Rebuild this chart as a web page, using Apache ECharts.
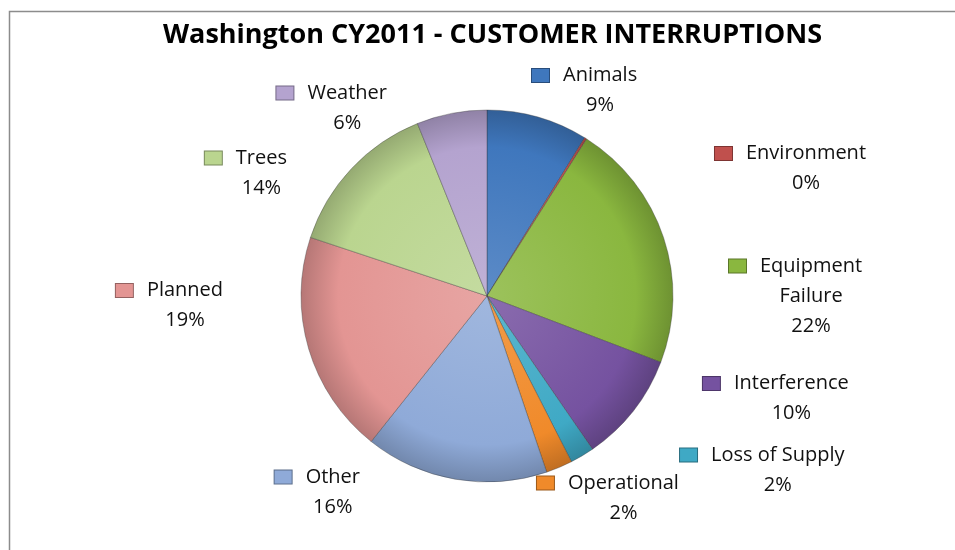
<!DOCTYPE html>
<html>
<head>
<meta charset="utf-8">
<title>Washington CY2011 - Customer Interruptions</title>
<script src="https://cdn.jsdelivr.net/npm/echarts@6/dist/echarts.min.js"></script>
<style>
    html, body { margin: 0; padding: 0; background: #fff; }
    #pie { width: 955px; height: 550px; }
</style>
</head>
<body>
<div id="pie"></div>
<script>
    // causes, clockwise from 12 o'clock
    var causes = ['Animals', 'Environment', 'Equipment Failure', 'Interference', 'Loss of Supply',
        'Operational', 'Other', 'Planned', 'Trees', 'Weather'];
    // share of customer interruptions (%)
    var shares = [8.8, 0.2, 21.8, 9.6, 2.1, 2.3, 15.9, 19.4, 13.8, 6.1];

    var colors = ['#3F77BD', '#C0504D', '#8AB73F', '#7552A0', '#3FA9C5',
        '#F08A2A', '#8FAAD8', '#E39593', '#BAD58F', '#B4A3CF'];
    // label line lengths (line itself hidden) so each label sits where excel put it
    var lineLen  = [27.6, -35.6, -186, -20, 16.5, 33.2, 13, -152.7, -6.3, 5.5];
    var lineLen2 = [-18.3, 143.2, 237, 80.4, 84.4, -40.2, 87.8, 227, 64, 58.5];

    var cx = 487, cy = 296, R = 186;

    function shade(hex, k) {
        var n = parseInt(hex.slice(1), 16);
        var rgb = [n >> 16, (n >> 8) & 255, n & 255].map(function (c) {
            return Math.round(k > 0 ? c + (255 - c) * k : c * (1 + k));
        });
        return 'rgb(' + rgb.join(',') + ')';
    }

    var rich = {
        n: { fontFamily: 'Open Sans', fontSize: 20, lineHeight: 30, color: '#111', align: 'center' },
        g: { width: 14, lineHeight: 30, align: 'center' },
        s: { width: 31, lineHeight: 30, align: 'center' }
    };
    colors.forEach(function (c, i) {
        rich['m' + i] = { width: 17, height: 13, lineHeight: 30, backgroundColor: c,
            borderColor: shade(c, -0.35), borderWidth: 1, align: 'center' };
    });

    var myChart = echarts.init(document.getElementById('pie'));
    var option = {
        backgroundColor: '#fff',
        animation: false,
        title: {
            text: 'Washington CY2011 - CUSTOMER INTERRUPTIONS',
            left: 163,
            top: 22,
            padding: 0,
            textStyle: { fontFamily: 'Open Sans', fontWeight: 'bold', fontSize: 27, color: '#000' }
        },
        graphic: [{
            type: 'rect',
            shape: { x: 9.5, y: 11.5, width: 1000, height: 600 },
            style: { fill: 'none', stroke: '#8c8c8c', lineWidth: 1.5 },
            silent: true
        }],
        series: [{
            type: 'pie',
            center: [cx, cy],
            radius: R,
            startAngle: 90,
            clockwise: true,
            avoidLabelOverlap: false,
            percentPrecision: 0,
            silent: true,
            itemStyle: { borderColor: 'rgba(50,50,50,0.35)', borderWidth: 1 },
            label: {
                show: true,
                position: 'outside',
                distanceToLabelLine: 5,
                fontFamily: 'Open Sans',
                fontSize: 20,
                lineHeight: 30,
                color: '#111',
                rich: rich,
                formatter: function (p) {
                    var lines = p.name.length > 15 ? p.name.split(' ') : [p.name];
                    var out = '{m' + p.dataIndex + '|}{g|}{n|' + lines[0] + '}';
                    for (var k = 1; k < lines.length; k++) {
                        out += '\n{s|}{n|' + lines[k] + '}';
                    }
                    return out + '\n{s|}{n|' + p.percent + '%}';
                }
            },
            labelLine: { show: false },
            data: causes.map(function (c, i) {
                return {
                    name: c,
                    value: shares[i],
                    itemStyle: {
                        color: {
                            type: 'radial', x: cx, y: cy, r: R, global: true,
                            colorStops: [
                                { offset: 0, color: shade(colors[i], 0.15) },
                                { offset: 0.8, color: colors[i] },
                                { offset: 1, color: shade(colors[i], -0.2) }
                            ]
                        }
                    },
                    labelLine: { length: lineLen[i], length2: lineLen2[i] }
                };
            })
        }]
    };
    myChart.setOption(option);
</script>
</body>
</html>
